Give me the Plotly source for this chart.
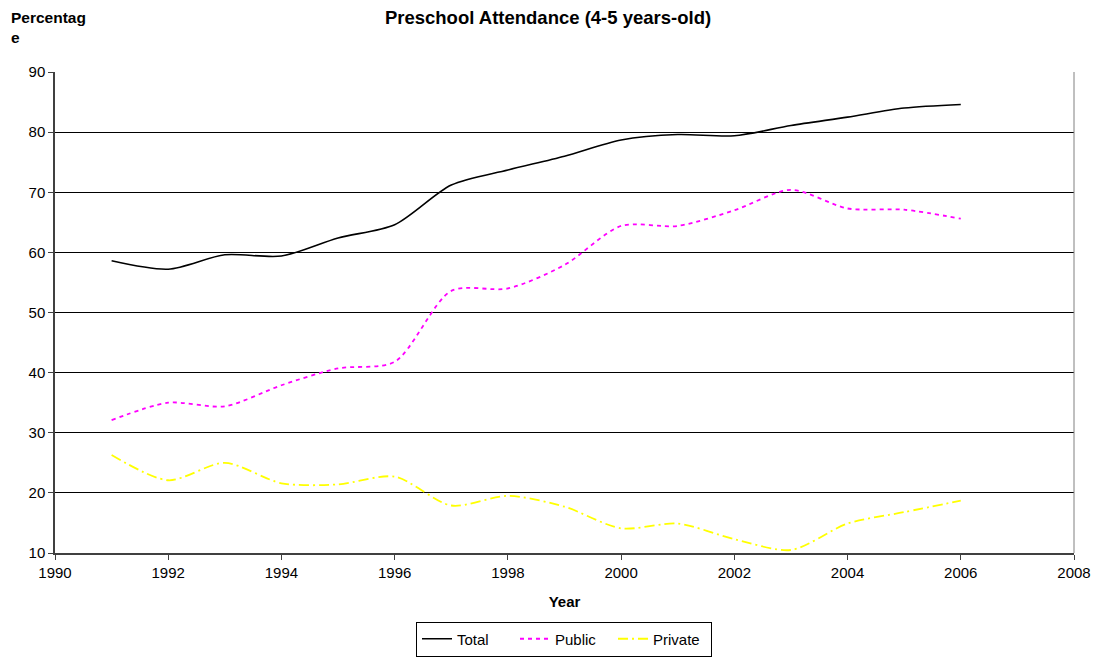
import plotly.graph_objects as go

years = [1991, 1992, 1993, 1994, 1995, 1996, 1997, 1998, 1999, 2000, 2001, 2002, 2003, 2004, 2005, 2006]
total = [58.6, 57.2, 59.6, 59.4, 62.4, 64.6, 71.2, 73.7, 76.0, 78.7, 79.6, 79.4, 81.1, 82.5, 84.0, 84.6]
public = [32.1, 35.0, 34.4, 37.9, 40.7, 41.8, 53.6, 54.0, 57.9, 64.4, 64.4, 67.0, 70.4, 67.3, 67.1, 65.6]
private = [26.3, 22.1, 25.0, 21.6, 21.4, 22.7, 17.9, 19.5, 17.7, 14.1, 14.9, 12.3, 10.5, 14.9, 16.8, 18.7]

font_family = "Liberation Sans, Arial, sans-serif"

W, H = 1098, 658
L, R, T, B = 55, 24, 72, 105
PW, PH = W - L - R, H - T - B

fig = go.Figure()
fig.add_trace(go.Scatter(x=years, y=total, name="Total", mode="lines",
                         line=dict(color="black", width=1.6, shape="spline", smoothing=0.8)))
fig.add_trace(go.Scatter(x=years, y=public, name="Public", mode="lines",
                         line=dict(color="#ff00ff", width=1.8, dash="4px,4px", shape="spline", smoothing=0.8)))
fig.add_trace(go.Scatter(x=years, y=private, name="Private", mode="lines",
                         line=dict(color="#ffff00", width=1.8, dash="10px,4px,2px,4px", shape="spline", smoothing=0.8)))

fig.update_layout(
    template="none",
    width=W, height=H,
    margin=dict(l=L, r=R, t=T, b=B, pad=0),
    paper_bgcolor="white", plot_bgcolor="white",
    font=dict(family=font_family, size=15, color="black"),
    title=dict(text="<b>Preschool Attendance (4-5 years-old)</b>", x=548 / W, xanchor="center",
               y=1 - 18 / H, yanchor="middle", font=dict(size=18.5)),
    showlegend=True,
    legend=dict(orientation="h", x=564 / W, xanchor="center", xref="container",
                y=1 - 639 / H, yanchor="middle", yref="container",
                bordercolor="black", borderwidth=1, bgcolor="white",
                font=dict(size=15), itemwidth=30, entrywidth=53, tracegroupgap=0),
    annotations=[dict(text="<b>Percentag<br>e</b>", xref="paper", yref="paper",
                      x=-(L - 9) / PW, y=1 + (T - 7) / PH, showarrow=False, align="left",
                      xanchor="left", yanchor="top", font=dict(size=15.5))],
)

fig.update_xaxes(range=[1990, 2008], dtick=2, tick0=1990, showgrid=False, zeroline=False,
                 showline=True, linecolor="#404040", linewidth=1.5, mirror=False,
                 ticks="outside", ticklen=5, tickcolor="#404040", automargin=False,
                 title=dict(text="<b>Year</b>", font=dict(size=15), standoff=17))
fig.update_yaxes(range=[10, 90], dtick=10, showgrid=True, gridcolor="black", gridwidth=1,
                 zeroline=False, showline=True, linecolor="#404040", linewidth=1.5,
                 ticks="outside", ticklen=5, tickcolor="#404040", automargin=False)

fig.add_shape(type="line", xref="paper", yref="paper", x0=1, x1=1, y0=0, y1=1,
              line=dict(color="#808080", width=1))

fig.write_html("out.html", config={"displayModeBar": False},
               post_script="document.body.style.margin='0';")
